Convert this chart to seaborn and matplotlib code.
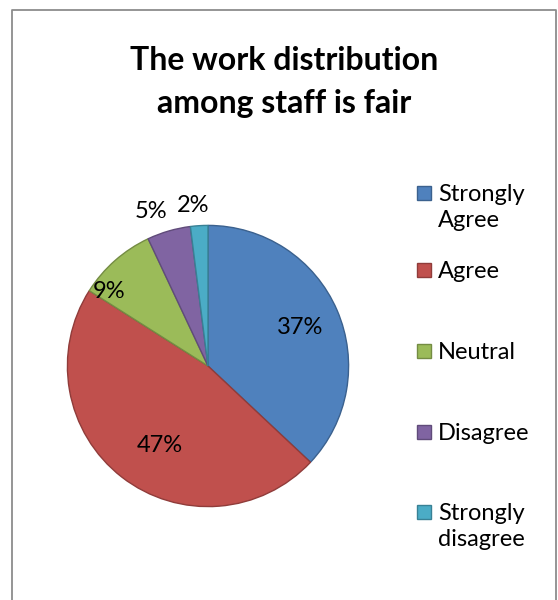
import matplotlib
matplotlib.use("Agg")
import matplotlib.pyplot as plt
import matplotlib.colors as mcolors
from matplotlib.patches import Rectangle
import seaborn as sns

categories = ["Strongly Agree", "Agree", "Neutral", "Disagree", "Strongly disagree"]
legend_labels = ["Strongly\nAgree", "Agree", "Neutral", "Disagree", "Strongly\ndisagree"]
values = [37, 47, 9, 5, 2]
pct_labels = ["37%", "47%", "9%", "5%", "2%"]
colors = ["#4F81BD", "#C0504D", "#9BBB59", "#8064A2", "#4BACC6"]
title = "The work distribution\namong staff is fair"

sns.set_theme(style="white")
plt.rcParams["font.family"] = ["Lato", "DejaVu Sans"]

W, H = 558, 600
fig = plt.figure(figsize=(W / 100, H / 100), dpi=100)
fig.patch.set_facecolor("white")

# chart border (open at the bottom, as in the reference)
border = plt.Line2D([12 / W, 12 / W, 556 / W, 556 / W], [0, 1 - 10 / H, 1 - 10 / H, 0],
                    transform=fig.transFigure, color="#8c8c8c", lw=1.3)
fig.add_artist(border)

# pie axes
cx, cy, r = 208, 366, 142
ax = fig.add_axes([(cx - r) / W, (H - cy - r) / H, 2 * r / W, 2 * r / H])
wedges, _ = ax.pie(values, colors=colors, startangle=90, counterclock=False,
                   radius=1.0, wedgeprops=dict(linewidth=1.0))
for w, c in zip(wedges, colors):
    rgb = mcolors.to_rgb(c)
    w.set_edgecolor(tuple(v * 0.75 for v in rgb))
ax.set_xlim(-1.01, 1.01)
ax.set_ylim(-1.01, 1.01)
ax.set_aspect("equal")
ax.axis("off")

# data label positions in pixels (layout)
label_px = [(300, 327), (160, 446), (109, 292), (151, 212), (193, 206)]
for lab, (px, py) in zip(pct_labels, label_px):
    fig.text(px / W, 1 - py / H, lab, ha="center", va="center", fontsize=17, color="black")

fig.text(284 / W, 1 - 82 / H, title, ha="center", va="center", fontsize=23,
         fontweight="bold", linespacing=1.55, color="black")

# legend
leg_y = [193, 270, 351, 432, 512]
for lab, c, yy in zip(legend_labels, colors, leg_y):
    rgb = mcolors.to_rgb(c)
    fig.add_artist(Rectangle((417 / W, 1 - (yy + 7) / H), 14 / W, 14 / H,
                             transform=fig.transFigure, facecolor=c,
                             edgecolor=tuple(v * 0.75 for v in rgb), lw=1))
    fig.text(438 / W, 1 - (yy - 9) / H, lab, ha="left", va="top", fontsize=17,
             linespacing=1.32, color="black")

fig.savefig("out.png", dpi=100, facecolor="white")
